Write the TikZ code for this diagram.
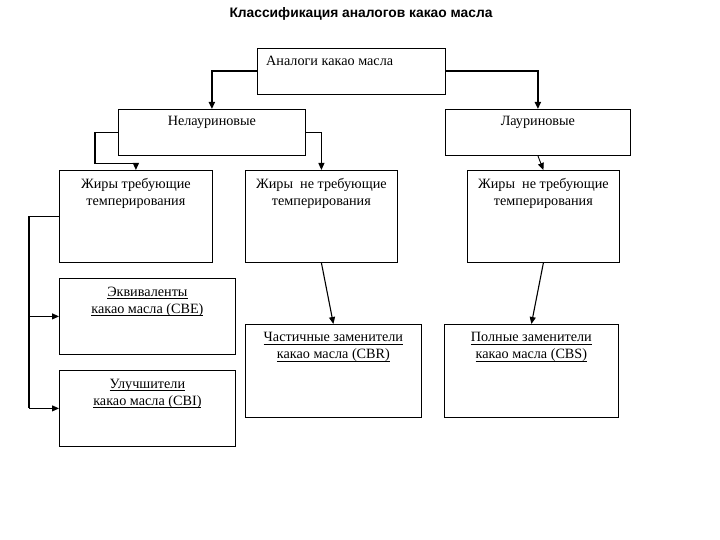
\documentclass[tikz,border=0pt]{standalone}
\usepackage{fontspec}
\setmainfont{Liberation Serif}
\newfontfamily\titlefont{Liberation Sans}
\usetikzlibrary{arrows.meta}
\newcommand\myul[1]{\setbox0=\hbox{#1}\leavevmode\rlap{\rule[-2.6pt]{\wd0}{0.6pt}}\box0}
\tikzset{
  box/.style={draw, line width=0.8pt, anchor=north west, inner sep=0pt},
  lbl/.style={anchor=north, yshift=-8.5pt, align=center, inner sep=0pt,
    font=\fontsize{14.2}{17}\selectfont},
  conn/.style={line width=0.9pt, -{Triangle[length=7pt,width=6pt]}},
  thickconn/.style={line width=1.8pt, -{Triangle[length=7pt,width=6pt]}},
  plain/.style={line width=0.9pt}
}
\begin{document}
\begin{tikzpicture}[x=1pt,y=-1pt]
\useasboundingbox[fill=white] (0,0) rectangle (720,540);
\node[font=\titlefont\bfseries\fontsize{13.8}{16}\selectfont] (title) at (361,14) {Классификация аналогов какао масла};

\node[box, minimum width=188pt, minimum height=46pt] (top) at (257,48) {};
\node[anchor=base west, inner sep=0pt, font=\fontsize{14.2}{17}\selectfont] (toptext) at (266,66) {Аналоги какао масла};

\node[box, minimum width=187pt, minimum height=46pt, label={[lbl,yshift=1pt]north:Нелауриновые}] (nel) at (118,109) {};
\node[box, minimum width=185pt, minimum height=46pt, label={[lbl,yshift=1pt]north:Лауриновые}] (laur) at (445,109) {};

\node[box, minimum width=153pt, minimum height=92pt, label={[lbl]north:Жиры требующие\\темперирования}] (z1) at (59,170) {};
\node[box, minimum width=152pt, minimum height=92pt, label={[lbl]north:Жиры\ \ не требующие\\темперирования}] (z2) at (245,170) {};
\node[box, minimum width=152pt, minimum height=92pt, label={[lbl]north:Жиры\ \ не требующие\\темперирования}] (z3) at (467,170) {};

\node[box, minimum width=176pt, minimum height=76pt, label={[lbl]north:\myul{Эквиваленты}\\\myul{какао масла (CBE)}}] (cbe) at (59,278) {};
\node[box, minimum width=176pt, minimum height=76pt, label={[lbl]north:\myul{Улучшители}\\\myul{какао масла (CBI)}}] (cbi) at (59,370) {};
\node[box, minimum width=176pt, minimum height=93pt, label={[lbl]north:\myul{Частичные заменители}\\\myul{какао масла (CBR)}}] (cbr) at (245,324) {};
\node[box, minimum width=174pt, minimum height=93pt, label={[lbl]north:\myul{Полные заменители}\\\myul{какао масла (CBS)}}] (cbs) at (444,324) {};

\draw[thickconn] (top.west) -| (nel.north);
\draw[thickconn] (top.east) -| (laur.north);
\draw[conn, line width=1.2pt] (nel.west) -- ++(-23,0) -- ++(0,31) -| (z1.north);
\draw[conn] (nel.east) -| (z2.north);
\draw[conn] (laur.south) -- (z3.north);
\draw[conn, line width=1.1pt] (z2.south) -- (cbr.north);
\draw[conn, line width=1.1pt] (z3.south) -- (cbs.north);
\draw[plain] (z1.west) -- ++(-30,0) coordinate (bk);
\draw[line width=1.8pt] (bk) -- (bk |- cbi.west);
\draw[conn] (bk |- cbe.west) -- (cbe.west);
\draw[conn] (bk |- cbi.west) -- (cbi.west);
\end{tikzpicture}
\end{document}
